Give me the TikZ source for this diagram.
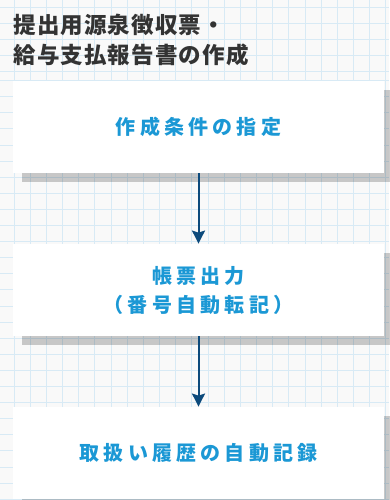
\documentclass[tikz,border=0pt]{standalone}
\usepackage{fontspec}
\usetikzlibrary{arrows.meta,shadows}
\newfontfamily\titlefont[LetterSpace=5]{Noto Sans CJK JP}
\newfontfamily\boxfont[LetterSpace=21]{Noto Sans CJK JP}
\definecolor{paper}{HTML}{F9F9F9}
\definecolor{gridline}{HTML}{D8EAF5}
\definecolor{titlegray}{HTML}{333333}
\definecolor{stepblue}{HTML}{1B98D5}
\definecolor{arrowblue}{HTML}{0C4A7C}
\begin{document}
\begin{tikzpicture}[x=1pt, y=-1pt, node distance=163pt, thick,
	step node/.style={rectangle, fill=white, minimum width=371pt, minimum height=92pt, inner sep=0pt,
		drop shadow={shadow xshift=9pt, shadow yshift=-9pt, opacity=0.2, fill=black},
		text=stepblue, align=center, font=\boxfont\bfseries\fontsize{20}{29}\selectfont},
	title node/.style={anchor=base west, inner sep=0pt, text=titlegray, font=\titlefont\bfseries\fontsize{22.5}{30}\selectfont}]
	\useasboundingbox (0,0) rectangle (389,500);
	\fill[paper] (0,0) rectangle (389,500);
	% grid paper
	\foreach \k in {0,...,4}
		\draw[gridline, line width=1pt] (0,7.3+16.1*\k) -- (389,7.3+16.1*\k);
	\foreach \k in {0,...,26}
		\draw[gridline, line width=1pt] (0,80.6+16.1*\k) -- (389,80.6+16.1*\k);
	\foreach \k in {0,...,23}
		\draw[gridline, line width=1pt] (14+16.17*\k,0) -- (14+16.17*\k,500);
	\node[title node] (T1) at (13,33.5) {提出用源泉徴収票・};
	\node[title node] (T2) at (13,63.5) {給与支払報告書の作成};
	\node[step node] (A) at (198.5,127) {作成条件の指定};
	\node[step node] (B) [below of=A] {帳票出力\\（番号自動転記）};
	\node[step node] (C) [below of=B] {取扱い履歴の自動記録};
	\path[arrowblue, line width=2pt, -{Stealth[length=13pt, width=13pt, inset=2pt]}]
		(A) edge (B)
		(B) edge (C);
\end{tikzpicture}
\end{document}
